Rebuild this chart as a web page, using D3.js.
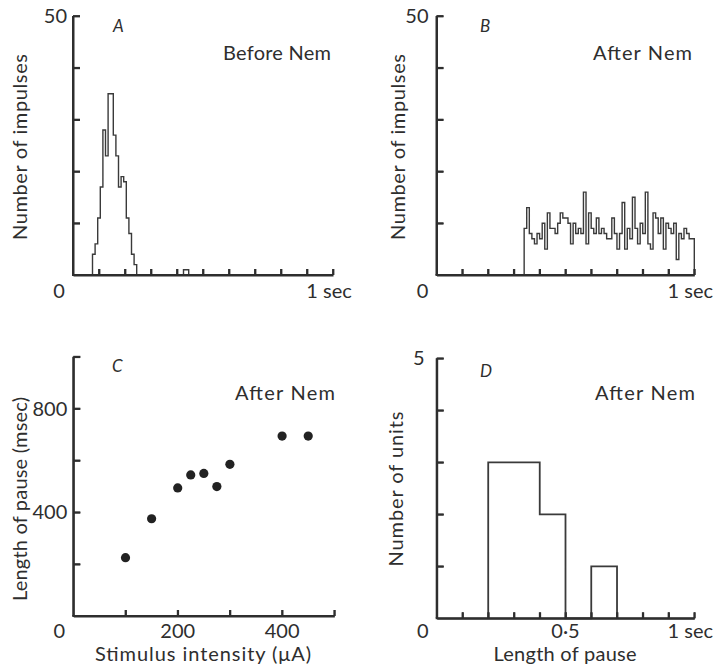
<!DOCTYPE html>
<html><head><meta charset="utf-8">
<script src="https://cdn.jsdelivr.net/npm/d3@7"></script>
<style>
body{margin:0;background:#fff}
</style>
</head><body>
<svg id="c" width="718" height="672"></svg>
<script>
// ---------- data ----------
const binWidth = 0.01; // sec
// Panel A: impulses per 10 ms bin, before Nem
const aStart = 0.075;
const aCounts = [4,6,11,17,28,23,35,35,27,23,17,19,18,11,8,4,2,
  0,0,0,0,0,0,0,0,0,0,0,0,0,0,0,0,0,0,1,1];
// Panel B: impulses per 10 ms bin, after Nem
const bStart = 0.34;
const bCounts = [9,13,8,7,6,8,7,10,5,12,9,9,8,10,12,11,11,10,6,10,8,9,8,16,6,12,9,8,11,8,
  9,8,7,7,11,8,5,8,14,5,9,7,15,9,6,10,8,16,6,5,12,11,8,11,5,10,9,8,10,3,8,7,9,8,7,7];
// Panel C: stimulus intensity (uA) vs length of pause (msec)
const cIntensity = [100,150,200,225,250,275,300,400,450];
const cPause = [225,375,494,544,550,499,585,694,694];
// Panel D: number of units per 0.1 s pause bin
const dStart = 0.2;
const dBinWidth = 0.1;
const dCounts = [3,3,2,0,1];
// ticks
const histXTicks = [0.1,0.2,0.3,0.4,0.5,0.6,0.7,0.8,0.9,1.0];
const histYTicks = [10,20,30,40,50];
const cXTicks = [100,200,300,400,500];
const cYTicks = [200,400,600,800,1000];
const dYTicks = [1,2,3,4,5];
const histYLabels = [[50,"50"]];
const histXLabels = [[0,"0"],[1,"1 sec"]];
const cXLabels = [[0,"0"],[200,"200"],[400,"400"]];
const cYLabels = [[400,"400"],[800,"800"]];
const dXLabels = [[0,"0"],[0.5,"0\u00B75"],[1,"1 sec"]];
const dYLabels = [[5,"5"]];

// ---------- drawing ----------
const svg = d3.select("#c");
const INK = "#2e2e2e";
const FONT = "Lato, 'Open Sans', sans-serif";
const axisLayer = svg.append("g");
const dataLayer = svg.append("g");
const frameLayer = svg.append("g");

function drawAxes(x, y, xt, yt) {
  const gx = axisLayer.append("g").attr("transform", "translate(0," + y.range()[0] + ")");
  gx.call(d3.axisBottom(x).tickValues(xt).tickSize(-6).tickSizeOuter(0).tickFormat(""));
  const gy = axisLayer.append("g").attr("transform", "translate(" + x.range()[0] + ",0)");
  gy.call(d3.axisLeft(y).tickValues(yt).tickSize(-7).tickSizeOuter(0).tickFormat(""));
  [gx, gy].forEach(g => {
    g.select(".domain").attr("stroke", INK).attr("stroke-width", 2);
    g.selectAll(".tick line").attr("stroke", INK).attr("stroke-width", 1.8);
  });
  // plain frame drawn from the same scales (spines and inward ticks)
  const x0 = x.range()[0], y0 = y.range()[0];
  const f = frameLayer.append("g").attr("stroke", INK);
  f.append("line").attr("x1", x0).attr("x2", x0).attr("y1", y(y.domain()[1])).attr("y2", y0).attr("stroke-width", 2);
  f.append("line").attr("x1", x0 - 1).attr("x2", x(x.domain()[1])).attr("y1", y0).attr("y2", y0).attr("stroke-width", 2);
  f.selectAll("line.xt").data(xt).join("line").attr("class", "xt")
    .attr("x1", d => x(d)).attr("x2", d => x(d)).attr("y1", y0).attr("y2", y0 - 6).attr("stroke-width", 1.8);
  f.selectAll("line.yt").data(yt).join("line").attr("class", "yt")
    .attr("x1", x0).attr("x2", x0 + 7).attr("y1", d => y(d)).attr("y2", d => y(d)).attr("stroke-width", 1.8);
}
function stepPath(x, y, start, w, counts) {
  const p = d3.path();
  p.moveTo(x(start), y(0));
  counts.forEach((c, i) => {
    p.lineTo(x(start + i * w), y(c));
    p.lineTo(x(start + (i + 1) * w), y(c));
  });
  p.lineTo(x(start + counts.length * w), y(0));
  return p.toString();
}
function hist(x, y, start, w, counts, sw) {
  dataLayer.append("path").attr("d", stepPath(x, y, start, w, counts))
    .attr("fill", "none").attr("stroke", "#3a3a3a").attr("stroke-width", sw);
}
function label(t, px, py, opts) {
  opts = opts || {};
  const e = dataLayer.append("text").attr("x", px).attr("y", py).text(t)
    .attr("font-family", FONT).attr("fill", INK)
    .attr("font-size", opts.size || 20)
    .attr("text-anchor", opts.anchor || "start");
  if (opts.italic) e.attr("font-style", "italic");
  if (opts.len) e.attr("textLength", opts.len).attr("lengthAdjust", "spacing");
  if (opts.rot) e.attr("transform", "rotate(-90," + px + "," + py + ")");
  return e;
}
function xLabels(x, labels, base) {
  labels.forEach(([v, t]) => {
    let px = x(v);
    if (v === 0) px -= 14;
    if (t.indexOf("sec") >= 0) px -= 4;
    label(t, px, base, {anchor: "middle", size: 20});
  });
}
function yLabels(x, y, labels, dx) {
  labels.forEach(([v, t]) => label(t, x.range()[0] - dx, y(v) + 7, {anchor: "end", size: 20}));
}

// scales
const xA = d3.scaleLinear().domain([0, 1]).range([73, 333]);
const yA = d3.scaleLinear().domain([0, 50]).range([275, 16]);
const xB = d3.scaleLinear().domain([0, 1]).range([436.5, 694.3]);
const yB = d3.scaleLinear().domain([0, 50]).range([275, 16]);
const xC = d3.scaleLinear().domain([0, 500]).range([73.3, 334.3]);
const yC = d3.scaleLinear().domain([0, 1000]).range([616, 356.7]);
const xD = d3.scaleLinear().domain([0, 1]).range([436.7, 694.3]);
const yD = d3.scaleLinear().domain([0, 5]).range([618.3, 358.3]);

drawAxes(xA, yA, histXTicks, histYTicks);
drawAxes(xB, yB, histXTicks, histYTicks);
drawAxes(xC, yC, cXTicks, cYTicks);
drawAxes(xD, yD, histXTicks, dYTicks);

// Panel A
hist(xA, yA, aStart, binWidth, aCounts, 1.4);
yLabels(xA, yA, histYLabels, 6);
xLabels(xA, histXLabels, 298);
label("A", 113, 32, {italic: true, size: 17});
label("Before Nem", 223, 60, {len: 108});
label("Number of impulses", 27, 147, {anchor: "middle", rot: true, len: 186});

// Panel B
hist(xB, yB, bStart, binWidth, bCounts, 1.4);
yLabels(xB, yB, histYLabels, 8);
xLabels(xB, histXLabels, 298);
label("B", 480, 32, {italic: true, size: 17});
label("After Nem", 593, 60, {len: 99});
label("Number of impulses", 405, 147, {anchor: "middle", rot: true, len: 186});

// Panel C
dataLayer.append("g").selectAll("circle").data(cIntensity).join("circle")
  .attr("cx", d => xC(d)).attr("cy", (d, i) => yC(cPause[i])).attr("r", 4.6)
  .attr("fill", "#222");
yLabels(xC, yC, cYLabels, 6);
xLabels(xC, cXLabels, 638);
label("C", 112, 372, {italic: true, size: 17});
label("After Nem", 235, 400, {len: 100});
label("Length of pause (msec)", 27, 499, {anchor: "middle", rot: true, len: 204});
label("Stimulus intensity (\u03BCA)", 203, 661, {anchor: "middle", len: 216});

// Panel D
hist(xD, yD, dStart, dBinWidth, dCounts, 1.8);
yLabels(xD, yD, dYLabels, 12);
xLabels(xD, dXLabels, 638);
label("D", 480, 377, {italic: true, size: 17});
label("After Nem", 595, 400, {len: 100});
label("Number of units", 403, 489, {anchor: "middle", rot: true, len: 155});
label("Length of pause", 565, 661, {anchor: "middle", len: 143});
</script>
</body></html>
